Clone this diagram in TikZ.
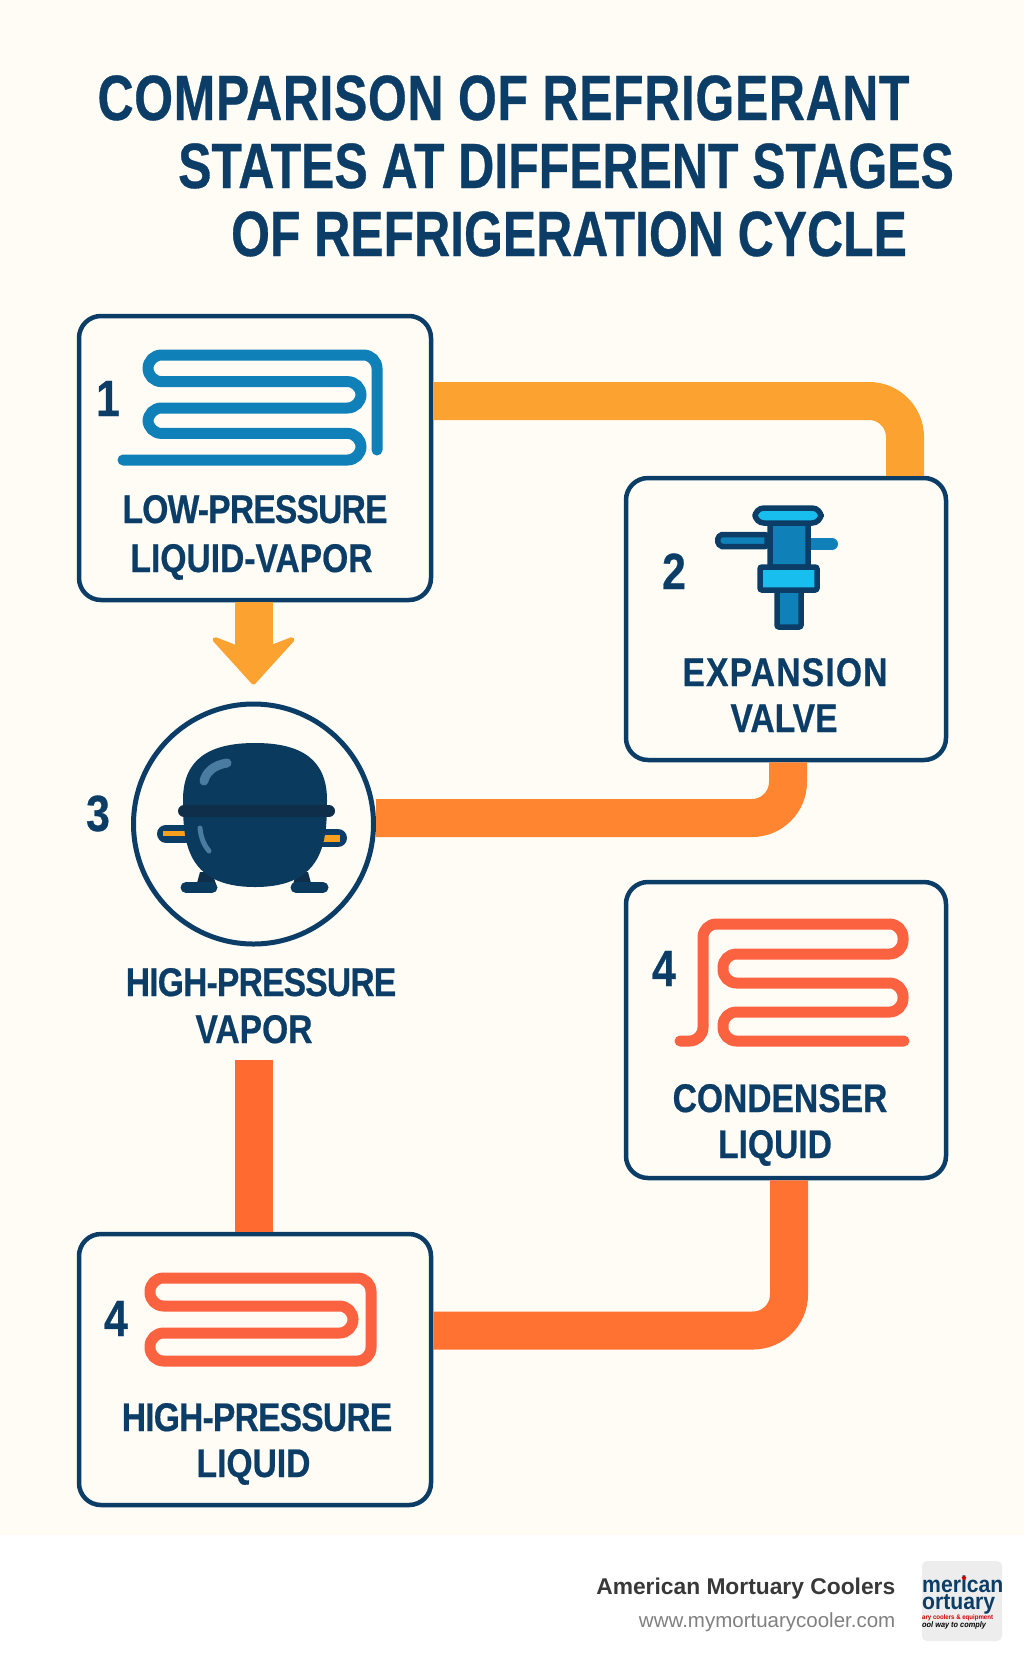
\documentclass[tikz,border=0pt]{standalone}
\usepackage{fontspec}
\usetikzlibrary{shapes.geometric,arrows.meta,calc}
\newfontfamily\titleFont[FakeStretch=0.78,FakeBold=0.5]{Liberation Sans}
\newfontfamily\lblFont[FakeStretch=0.84,FakeBold=0.5]{Liberation Sans}
\newfontfamily\footFont{Liberation Sans}
\newfontfamily\logoFont[FakeStretch=0.92]{Liberation Sans}
\definecolor{navyC}{HTML}{0B3D66}
\definecolor{paperC}{HTML}{FFFCF6}
\definecolor{coilBlue}{HTML}{1080B8}
\definecolor{coilRed}{HTML}{FB6240}
\definecolor{cyanC}{HTML}{18BEEE}
\definecolor{bodyC}{HTML}{0A3A5E}
\definecolor{bandC}{HTML}{0F2E4A}
\definecolor{shineC}{HTML}{4A7BA0}
\definecolor{pipeA}{HTML}{FBA231}
\definecolor{pipeB}{HTML}{FF8530}
\definecolor{pipeC}{HTML}{FF6A30}
\definecolor{pipeD}{HTML}{FF7232}
\definecolor{orngC}{HTML}{F7A01E}
\begin{document}
\begin{tikzpicture}
  [x=1pt,y=-1pt,
   >={Stealth[length=52pt,width=94pt,inset=18pt,round,line width=5pt]},
   stateN/.style={draw=navyC,line width=4.5pt,fill=paperC,rectangle,rounded corners=22pt},
   titleN/.style={anchor=base,text=navyC,font=\titleFont\bfseries\fontsize{64}{64}\selectfont},
   lblN/.style={anchor=base,text=navyC,font=\lblFont\bfseries\fontsize{40}{40}\selectfont},
   numN/.style={anchor=base,text=navyC,font=\lblFont\bfseries\fontsize{51}{51}\selectfont},
   footN/.style={anchor=base east,inner sep=0pt},
   logoN/.style={anchor=base west,inner sep=0pt},
   pipeL/.style={line width=38pt,rounded corners=36pt},
   coilL/.style={line width=11pt,line cap=round,rounded corners=13.5pt},
   valveL/.style={draw=navyC,line width=5.5pt,rounded corners=2pt},
  ]

 \fill[white]  (0,0) rectangle (1024,1666);
 \fill[paperC] (0,0) rectangle (1024,1535);
 \useasboundingbox (0,0) rectangle (1024,1666);

 \node[titleN] (ttlA) at (503.5,120) {\addfontfeature{LetterSpace=1}COMPARISON OF REFRIGERANT};
 \node[titleN] (ttlB) at (566,188)   {STATES AT DIFFERENT STAGES};
 \node[titleN] (ttlC) at (569,256)   {OF REFRIGERATION CYCLE};

 \node[stateN,minimum width=352pt,minimum height=284pt] (lp)  at (255,458)    {};
 \node[stateN,minimum width=320pt,minimum height=282pt] (ev)  at (786,619)    {};
 \node[stateN,minimum width=320pt,minimum height=296pt] (cd)  at (786,1030)   {};
 \node[stateN,minimum width=352pt,minimum height=271pt] (hpl) at (255,1369.5) {};
 \node[draw=navyC,line width=5pt,fill=paperC,circle,minimum size=240pt] (cmp) at (253.5,824) {};
 \coordinate (vapEnd) at (253.5,1060);

 \draw[pipeL,pipeA] ([yshift=57pt]lp.east) -| ([xshift=119pt]ev.north);
 \draw[pipeL,pipeB] ([xshift=2pt]ev.south) |- ([yshift=6pt]cmp.east);
 \draw[pipeL,pipeC] (vapEnd) -- (vapEnd |- hpl.north);
 \draw[pipeL,pipeD] ([xshift=3pt]cd.south) |- ([yshift=39pt]hpl.east);
 \draw[->,line width=38pt,pipeA,shorten >=17pt] (lp.south -| cmp.north) -- (cmp.north);

 \draw[coilL,coilBlue] (123,460) -- (361,460) -- (361,433.4) -- (148,433.4) -- (148,408) -- (361,408)
   -- (361,381.6) -- (148,381.6) -- (148,355) -- (377,355) -- (377,450);
 \draw[coilL,coilRed] (680,1041) -- (703,1041) -- (703,924) -- (903,924) -- (903,954) -- (723,954)
   -- (723,983) -- (903,983) -- (903,1012) -- (723,1012) -- (723,1041) -- (904,1041);
 \draw[coilL,coilRed] (250,1278) -- (371,1278) -- (371,1361) -- (150,1361) -- (150,1333) -- (353,1333)
   -- (353,1306) -- (150,1306) -- (150,1278) -- cycle;

 \draw[line width=12pt,line cap=round,coilBlue] (806,544) -- (832,544);
 \draw[valveL,fill=coilBlue] (767,534.5) -- (720,534.5) -- (717,540.5) -- (720,546.5) -- (767,546.5) -- cycle;
 \draw[valveL,fill=coilBlue] (770,520) rectangle (808,567);
 \draw[valveL,fill=cyanC,rounded corners=9pt] (755,508) rectangle (821,523);
 \draw[valveL,fill=coilBlue] (777,590) rectangle (801,627);
 \draw[valveL,fill=cyanC] (760,567) rectangle (817,590);

 \draw[line width=18pt,line cap=round,navyC] (166,833.5) -- (190,833.5);
 \draw[line width=5pt,orngC] (163,833.5) -- (190,833.5);
 \draw[line width=18pt,line cap=round,navyC] (320,838) -- (338,838);
 \draw[line width=6.5pt,orngC] (320,838.5) -- (340,838.5);
 \fill[bandC] (197,883) -- (200,872) -- (212,872) -- (216,884) -- cycle;
 \fill[bandC] (293,884) -- (297,872) -- (308,872) -- (311,883) -- cycle;
 \draw[line width=11pt,line cap=round,bodyC] (186,887.5) -- (212,887.5);
 \draw[line width=11pt,line cap=round,bodyC] (296,887.5) -- (323,887.5);
 \fill[bodyC] (255,743) .. controls (302,743) and (327,760) .. (327,800)
   .. controls (327,840) and (325,887) .. (255,887)
   .. controls (185,887) and (183,840) .. (183,800)
   .. controls (183,760) and (208,743) .. (255,743) -- cycle;
 \draw[line width=12pt,line cap=round,bandC] (184,811) -- (329,811);
 \draw[line width=9pt,line cap=round,shineC] (204,781) .. controls (206,772) and (214,765) .. (227,763);
 \draw[line width=5pt,line cap=round,shineC] (200,828) .. controls (201,838) and (204,845) .. (209,851);

 \node[numN] (nA) at (108,416)  {1};
 \node[numN] (nB) at (674,589)  {2};
 \node[numN] (nC) at (98,831)   {3};
 \node[numN] (nD) at (664,986)  {4};
 \node[numN] (nE) at (116,1336) {4};

 \node[lblN] (lpA)  at (255,523)    {\addfontfeature{LetterSpace=-2}LOW-PRESSURE};
 \node[lblN] (lpB)  at (251.5,572)  {LIQUID-VAPOR};
 \node[lblN] (evA)  at (785,686)    {\addfontfeature{LetterSpace=3}EXPANSION};
 \node[lblN] (evB)  at (784,732)    {VALVE};
 \node[lblN] (vapA) at (261,996)    {\addfontfeature{LetterSpace=-2}HIGH-PRESSURE};
 \node[lblN] (vapB) at (254,1043)   {VAPOR};
 \node[lblN] (cdA)  at (780,1112)   {CONDENSER};
 \node[lblN] (cdB)  at (775,1158)   {LIQUID};
 \node[lblN] (hplA) at (257,1431)   {\addfontfeature{LetterSpace=-2}HIGH-PRESSURE};
 \node[lblN] (hplB) at (253.5,1477) {LIQUID};

 \node[footN,text=black!78,font=\footFont\bfseries\fontsize{22.8}{22.8}\selectfont] (brand) at (895.5,1594) {American Mortuary Coolers};
 \node[footN,text=black!50,font=\footFont\fontsize{20.5}{20.5}\selectfont] (site) at (895.5,1627) {www.mymortuarycooler.com};

 \fill[black!7,rounded corners=5pt] (922,1561) rectangle (1002,1641);
 \begin{scope}
  \clip[rounded corners=5pt] (922,1561) rectangle (1002,1641);
  \node[logoN,navyC,font=\logoFont\bfseries\fontsize{23}{23}\selectfont] (logoA) at (922,1592) {merican};
  \node[logoN,navyC,font=\logoFont\bfseries\fontsize{23}{23}\selectfont] (logoB) at (922,1609) {ortuary};
  \node[logoN,red!80!black,font=\logoFont\bfseries\fontsize{6.6}{6.6}\selectfont] (logoC) at (922,1619) {ary coolers \& equipment};
  \node[logoN,black,font=\logoFont\bfseries\itshape\fontsize{8}{8}\selectfont] (logoD) at (922,1627) {ool way to comply};
  \node[star,star points=5,fill=red!80!black,inner sep=0pt,minimum size=5pt] (logoS) at (964,1578) {};
 \end{scope}

\end{tikzpicture}
\end{document}
